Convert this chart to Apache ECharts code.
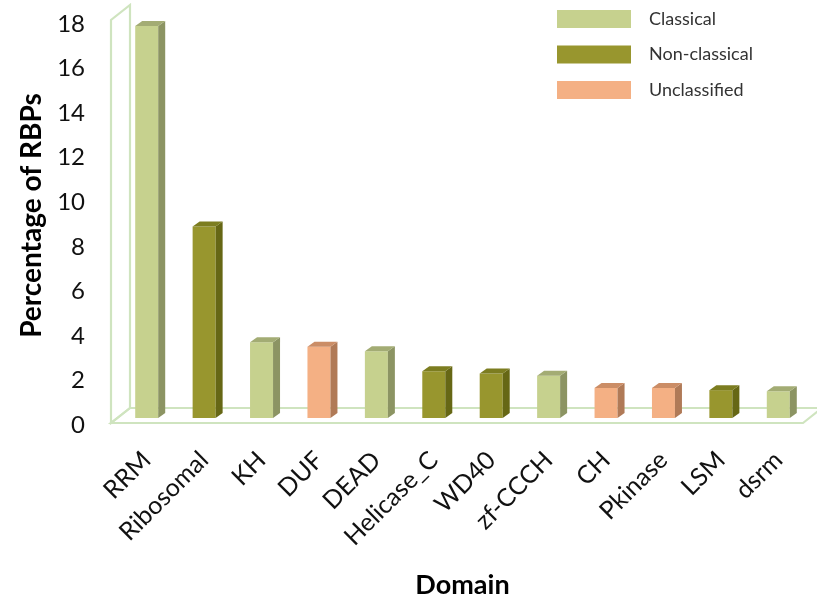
<!DOCTYPE html>
<html>
<head>
<meta charset="utf-8">
<script src="https://cdn.jsdelivr.net/npm/echarts@6/dist/echarts.min.js"></script>
<style>
  html, body { margin: 0; padding: 0; background: #fff; }
  #chart { width: 817px; height: 604px; }
</style>
</head>
<body>
<div id="chart"></div>
<script>
// RNA-binding domains and the share of RBPs carrying each one
const domains = ['RRM', 'Ribosomal', 'KH', 'DUF', 'DEAD', 'Helicase_C', 'WD40', 'zf-CCCH', 'CH', 'Pkinase', 'LSM', 'dsrm'];
const percentages = [17.6, 8.6, 3.4, 3.2, 3.0, 2.1, 2.0, 1.9, 1.35, 1.35, 1.25, 1.2];
const domainClass = ['Classical', 'Non-classical', 'Classical', 'Unclassified', 'Classical', 'Non-classical',
                     'Non-classical', 'Classical', 'Unclassified', 'Unclassified', 'Non-classical', 'Classical'];
const classNames = ['Classical', 'Non-classical', 'Unclassified'];
const yTicks = [0, 2, 4, 6, 8, 10, 12, 14, 16, 18];

// front / side / top shades for each class
const shades = {
  'Classical':     { front: '#C6D18E', side: '#8C9463', top: '#A3AC74' },
  'Non-classical': { front: '#98962E', side: '#666715', top: '#7C7D20' },
  'Unclassified':  { front: '#F4B084', side: '#B07A57', top: '#CB8D66' }
};

const FONT = 'Lato';
const BAR_W = 23, DEPTH_X = 7, DEPTH_Y = -5, LIFT = 7;

function barRenderer(cls) {
  const c = shades[cls];
  return function (params, api) {
    const i = api.value(0), v = api.value(1);
    const base = api.coord([i, 0]);
    const top = api.coord([i, v]);
    const x0 = base[0] - BAR_W / 2, x1 = base[0] + BAR_W / 2;
    const yb = base[1] - LIFT, yt = top[1] - LIFT;
    return {
      type: 'group',
      children: [
        { type: 'rect', shape: { x: x0, y: yt, width: BAR_W, height: yb - yt }, style: { fill: c.front } },
        { type: 'polygon', shape: { points: [[x1, yt], [x1 + DEPTH_X, yt + DEPTH_Y], [x1 + DEPTH_X, yb + DEPTH_Y], [x1, yb]] }, style: { fill: c.side } },
        { type: 'polygon', shape: { points: [[x0, yt], [x0 + DEPTH_X, yt + DEPTH_Y], [x1 + DEPTH_X, yt + DEPTH_Y], [x1, yt]] }, style: { fill: c.top } }
      ]
    };
  };
}

// side wall and floor outline of the 3-D plot area
function frameRenderer(params, api) {
  const cs = params.coordSys;
  const left = cs.x - 7, right = cs.x + cs.width - 4;
  const floorY = cs.y + cs.height - 2, wallTop = cs.y - 4;
  const ox = 19, oy = -15;
  const line = { stroke: '#CFE4BF', lineWidth: 2.2, fill: null };
  return {
    type: 'group',
    children: [
      { type: 'polygon', shape: { points: [[left, floorY], [left, wallTop], [left + ox, wallTop + oy], [left + ox, floorY + oy]] }, style: Object.assign({}, line, { fill: '#fff' }) },
      { type: 'polygon', shape: { points: [[left, floorY], [right, floorY], [right + ox, floorY + oy], [left + ox, floorY + oy]] }, style: line }
    ]
  };
}

const series = [{
  type: 'custom',
  name: 'frame',
  renderItem: frameRenderer,
  data: [[0, 0]],
  z: 1,
  silent: true
}];
classNames.forEach(cls => {
  series.push({
    type: 'custom',
    name: cls,
    renderItem: barRenderer(cls),
    itemStyle: { color: shades[cls].front },
    encode: { x: 0, y: 1 },
    data: domains.map((d, i) => [i, percentages[i]]).filter((p, i) => domainClass[i] === cls),
    z: 2
  });
});

const chart = echarts.init(document.getElementById('chart'), null, { renderer: 'canvas' });
chart.setOption({
  animation: false,
  backgroundColor: '#fff',
  grid: { left: 118, right: 10, top: 24, bottom: 175 },
  legend: {
    data: classNames,
    orient: 'vertical',
    left: 557, top: 10,
    padding: 0,
    icon: 'rect',
    itemWidth: 74, itemHeight: 18, itemGap: 17.5,
    textStyle: { fontFamily: FONT, fontSize: 18, color: '#333', padding: [0, 0, 0, 13] }
  },
  xAxis: {
    type: 'category',
    data: domains,
    axisLine: { show: false },
    axisTick: { show: false },
    axisLabel: { rotate: 45, fontFamily: FONT, fontSize: 25, color: '#111', margin: 31, interval: 0 },
    name: 'Domain',
    nameLocation: 'middle',
    nameGap: 147,
    nameTextStyle: { fontFamily: FONT, fontSize: 27, fontWeight: 'bold', color: '#000' }
  },
  yAxis: {
    type: 'value',
    min: yTicks[0], max: yTicks[yTicks.length - 1], interval: yTicks[1] - yTicks[0],
    axisLine: { show: false },
    axisTick: { show: false },
    splitLine: { show: false },
    axisLabel: { fontFamily: FONT, fontSize: 24, color: '#111', margin: 33 },
    name: 'Percentage of RBPs',
    nameLocation: 'middle',
    nameGap: 69,
    nameTextStyle: { fontFamily: FONT, fontSize: 28, fontWeight: 'bold', color: '#000', padding: [0, 0, 0, 18] }
  },
  series: series
});
</script>
</body>
</html>
